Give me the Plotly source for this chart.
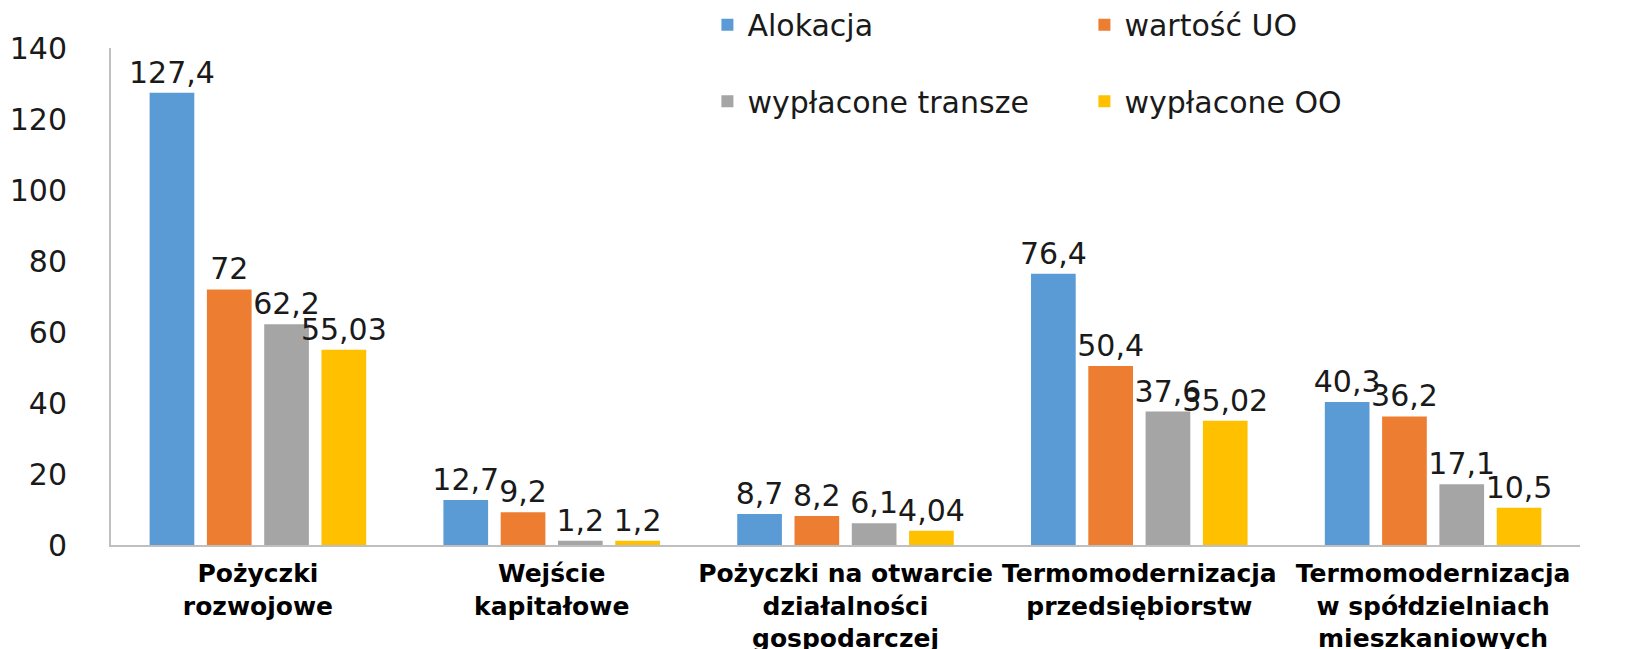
import plotly.graph_objects as go

categories = [
    "Pożyczki<br>rozwojowe",
    "Wejście<br>kapitałowe",
    "Pożyczki na otwarcie<br>działalności<br>gospodarczej",
    "Termomodernizacja<br>przedsiębiorstw",
    "Termomodernizacja<br>w spółdzielniach<br>mieszkaniowych",
]
alokacja = [127.4, 12.7, 8.7, 76.4, 40.3]
wartosc_uo = [72, 9.2, 8.2, 50.4, 36.2]
wyplacone_transze = [62.2, 1.2, 6.1, 37.6, 17.1]
wyplacone_oo = [55.03, 1.2, 4.04, 35.02, 10.5]
label_alokacja = ["127,4", "12,7", "8,7", "76,4", "40,3"]
label_uo = ["72", "9,2", "8,2", "50,4", "36,2"]
label_transze = ["62,2", "1,2", "6,1", "37,6", "17,1"]
label_oo = ["55,03", "1,2", "4,04", "35,02", "10,5"]
y_ticks = [0, 20, 40, 60, 80, 100, 120, 140]

series = [
    ("Alokacja", alokacja, label_alokacja, "#5B9BD5", "legend"),
    ("wartość UO", wartosc_uo, label_uo, "#ED7D31", "legend"),
    ("wypłacone transze", wyplacone_transze, label_transze, "#A5A5A5", "legend2"),
    ("wypłacone OO", wyplacone_oo, label_oo, "#FFC000", "legend2"),
]

FONT = "DejaVu Sans"
fig = go.Figure()
for name, vals, labels, color, leg in series:
    fig.add_trace(go.Bar(
        name=name, x=categories, y=vals, text=labels,
        textposition="outside", constraintext="none", cliponaxis=False,
        textfont=dict(family=FONT, size=30, color="#1a1a1a"),
        marker=dict(color=color, line=dict(width=0)),
        legend=leg, hoverinfo="skip",
    ))

legend_common = dict(
    orientation="h", xanchor="left", yanchor="middle",
    entrywidth=332, entrywidthmode="pixels",
    font=dict(family=FONT, size=30, color="#1a1a1a"),
    bgcolor="rgba(0,0,0,0)", borderwidth=0, itemclick=False,
)

fig.update_layout(
    width=1627, height=649,
    margin=dict(l=111, r=47, t=48, b=104, autoexpand=False),
    paper_bgcolor="white", plot_bgcolor="white",
    barmode="group", bargap=0.22, bargroupgap=0.22,
    showlegend=True,
    legend=dict(x=0.406, y=1.047, **legend_common),
    legend2=dict(x=0.406, y=0.893, **legend_common),
    xaxis=dict(
        showline=True, linecolor="#BFBFBF", linewidth=2,
        showgrid=False, ticks="", ticklabelstandoff=5,
        tickfont=dict(family=FONT, size=25, color="black", weight="bold"),
    ),
    yaxis=dict(
        range=[0, 140], tickvals=y_ticks,
        showline=True, linecolor="#BFBFBF", linewidth=2,
        showgrid=False, zeroline=False, ticks="", ticklabelstandoff=36,
        tickfont=dict(family=FONT, size=30, color="#1a1a1a"),
    ),
)

fig.write_html(
    "out.html",
    config={"displayModeBar": False},
    post_script="document.body.style.margin='0';document.body.style.overflow='hidden';",
)
